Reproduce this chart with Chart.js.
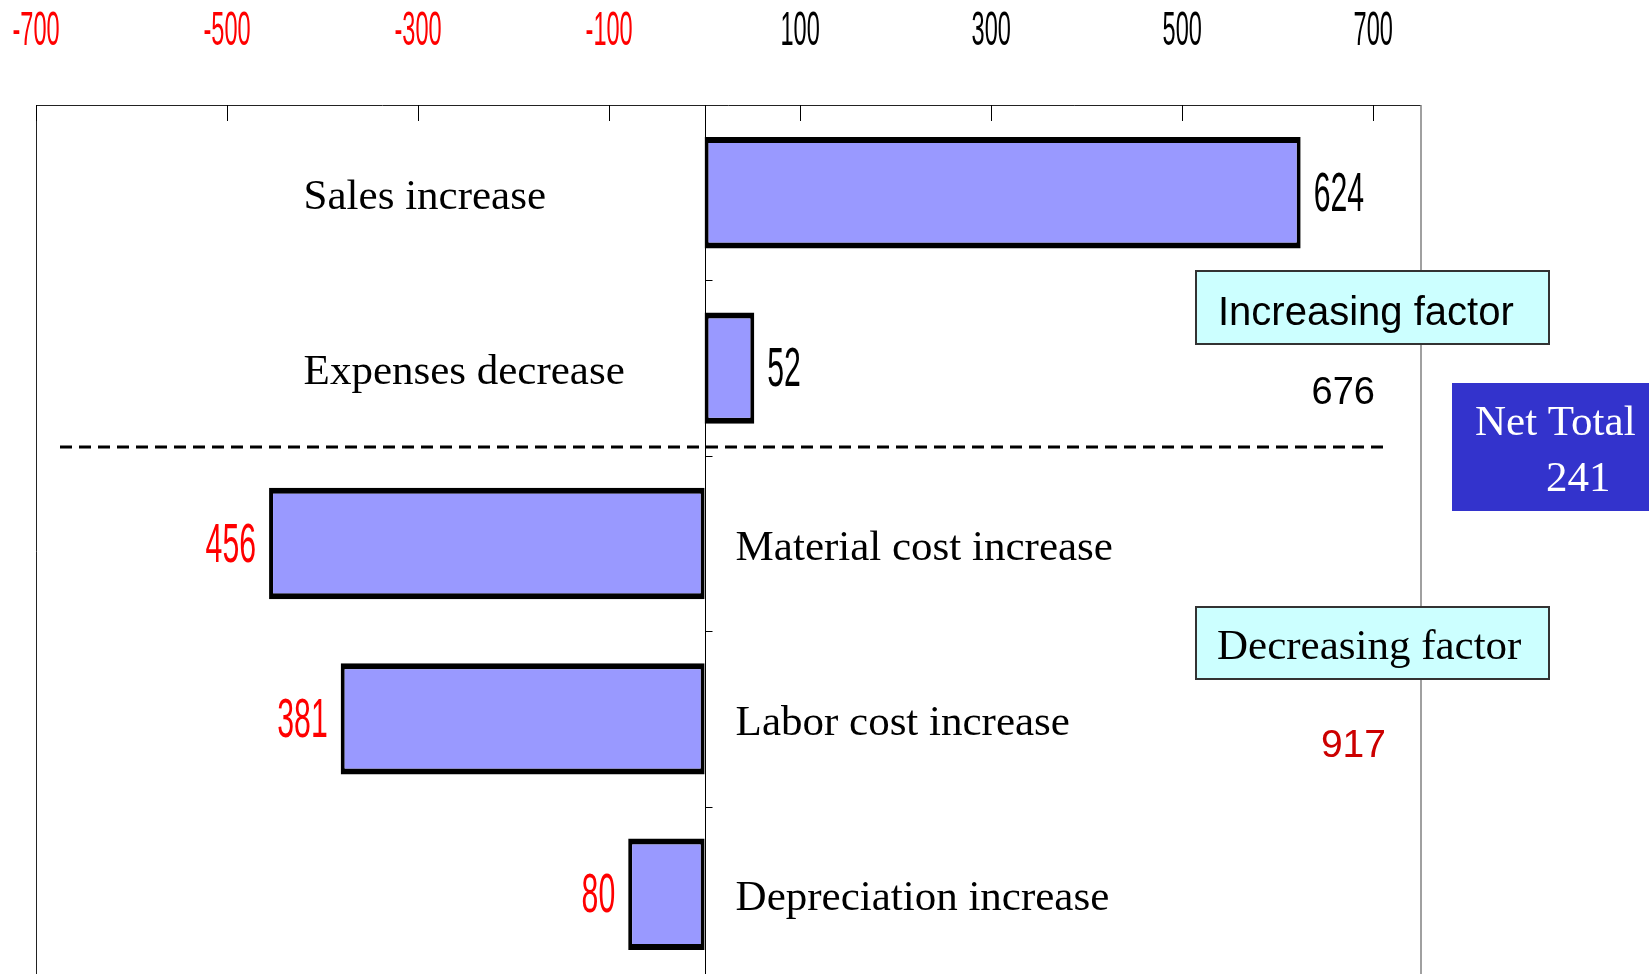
<!DOCTYPE html>
<html>
<head>
<meta charset="utf-8">
<script src="https://cdn.jsdelivr.net/npm/chart.js@4.4.0/dist/chart.umd.min.js"></script>
<style>
html,body{margin:0;padding:0;background:#fff;overflow:hidden;}
#wrap{width:1649px;height:996px;}
canvas{display:block;}
</style>
</head>
<body>
<div id="wrap"><canvas id="c" width="1649" height="996"></canvas></div>
<script>
// ---- data ----
const categories = ['Sales increase', 'Expenses decrease', 'Material cost increase', 'Labor cost increase', 'Depreciation increase'];
const values = [624, 52, -456, -381, -80];
const tickValues = [-700, -500, -300, -100, 100, 300, 500, 700];
const increasingLabel = 'Increasing factor';
const decreasingLabel = 'Decreasing factor';
const netLabel = 'Net Total';
const increasingTotal = values.filter(v => v > 0).reduce((a, b) => a + b, 0);
const decreasingTotal = -values.filter(v => v < 0).reduce((a, b) => a + b, 0);
const netTotal = Math.abs(increasingTotal - decreasingTotal);

const SANS = "'Liberation Sans', Arial, sans-serif";
const SERIF = "'Liberation Serif', 'Times New Roman', serif";

function squish(ctx, text, x, y, align, sx) {
  ctx.save();
  ctx.translate(x, y);
  ctx.scale(sx, 1);
  ctx.textAlign = align;
  ctx.textBaseline = 'alphabetic';
  ctx.fillText(text, 0, 0);
  ctx.restore();
}

const deco = {
  id: 'deco',
  beforeDatasetsDraw(chart) {
    const { ctx, chartArea: a, scales: { x, y } } = chart;
    const z = Math.round(x.getPixelForValue(0)) + 0.5;
    const bottom = chart.height + 5;
    ctx.save();
    // frame (left + top)
    ctx.strokeStyle = '#222';
    ctx.lineWidth = 1;
    ctx.beginPath();
    ctx.moveTo(Math.round(a.left) + 0.5, bottom);
    ctx.lineTo(Math.round(a.left) + 0.5, Math.round(a.top) + 0.5);
    ctx.lineTo(Math.round(a.right), Math.round(a.top) + 0.5);
    ctx.stroke();
    // right frame
    ctx.strokeStyle = '#808080';
    ctx.lineWidth = 1.5;
    ctx.beginPath();
    ctx.moveTo(a.right, a.top);
    ctx.lineTo(a.right, bottom);
    ctx.stroke();
    // top tick marks
    ctx.strokeStyle = '#000';
    ctx.lineWidth = 1;
    tickValues.forEach(v => {
      const px = Math.round(x.getPixelForValue(v)) + 0.5;
      ctx.beginPath();
      ctx.moveTo(px, a.top);
      ctx.lineTo(px, a.top + 16);
      ctx.stroke();
    });
    // tick labels
    ctx.font = '48px ' + SANS;
    tickValues.forEach(v => {
      ctx.fillStyle = v < 0 ? '#FF0000' : '#000000';
      squish(ctx, String(v), x.getPixelForValue(v), 45, 'center', 0.49);
    });
    // zero line
    ctx.beginPath();
    ctx.moveTo(z, a.top);
    ctx.lineTo(z, bottom);
    ctx.stroke();
    // category boundary ticks on the zero line
    for (let i = 0; i < categories.length - 1; i++) {
      const py = Math.round(y.getPixelForValue(i + 0.5)) + 0.5;
      ctx.beginPath();
      ctx.moveTo(z, py);
      ctx.lineTo(z + 7, py);
      ctx.stroke();
    }
    // dashed divider between increasing and decreasing factors
    const dy = Math.round(y.getPixelForValue(1.45));
    ctx.setLineDash([12, 7]);
    ctx.lineWidth = 3;
    ctx.beginPath();
    ctx.moveTo(a.left + 24, dy);
    ctx.lineTo(a.right - 36, dy);
    ctx.stroke();
    ctx.restore();
  },
  afterDatasetsDraw(chart) {
    const { ctx, scales: { x, y } } = chart;
    const z = x.getPixelForValue(0);
    const meta = chart.getDatasetMeta(0);
    ctx.save();
    // value labels
    ctx.font = '56px ' + SANS;
    meta.data.forEach((bar, i) => {
      const v = values[i];
      const cy = y.getPixelForValue(i) + 18;
      if (v >= 0) {
        ctx.fillStyle = '#000000';
        squish(ctx, String(Math.abs(v)), bar.x + 13, cy, 'left', 0.54);
      } else {
        ctx.fillStyle = '#FF0000';
        squish(ctx, String(Math.abs(v)), bar.x - 13, cy, 'right', 0.54);
      }
    });
    // category labels
    ctx.font = '43px ' + SERIF;
    ctx.fillStyle = '#000';
    ctx.textBaseline = 'alphabetic';
    ctx.textAlign = 'left';
    categories.forEach((c, i) => {
      const cy = y.getPixelForValue(i) + 16;
      const lx = values[i] >= 0 ? z - 401 : z + 31;
      ctx.fillText(c, lx, cy);
    });
    // Increasing factor box
    ctx.fillStyle = '#CCFFFF';
    ctx.fillRect(1196, 271, 353, 73);
    ctx.strokeStyle = '#333';
    ctx.lineWidth = 2;
    ctx.strokeRect(1196, 271, 353, 73);
    ctx.fillStyle = '#000';
    ctx.font = '40px ' + SANS;
    ctx.fillText(increasingLabel, 1218, 325);
    ctx.font = '38px ' + SANS;
    ctx.textAlign = 'right';
    ctx.fillText(String(increasingTotal), 1375, 404);
    // Decreasing factor box
    ctx.textAlign = 'left';
    ctx.fillStyle = '#CCFFFF';
    ctx.fillRect(1196, 607, 353, 72);
    ctx.strokeRect(1196, 607, 353, 72);
    ctx.fillStyle = '#000';
    ctx.font = '43px ' + SERIF;
    ctx.fillText(decreasingLabel, 1217, 659);
    ctx.fillStyle = '#CC0000';
    ctx.font = '39px ' + SANS;
    ctx.textAlign = 'right';
    ctx.fillText(String(decreasingTotal), 1386, 757);
    // Net total box
    ctx.fillStyle = '#3333CC';
    ctx.fillRect(1452, 383, 197, 128);
    ctx.fillStyle = '#FFFFFF';
    ctx.font = '43px ' + SERIF;
    ctx.textAlign = 'left';
    ctx.fillText(netLabel, 1475, 435);
    ctx.fillText(String(netTotal), 1546, 491);
    ctx.restore();
  }
};

new Chart(document.getElementById('c'), {
  type: 'bar',
  data: {
    labels: categories,
    datasets: [{
      data: values,
      backgroundColor: '#9999FF',
      borderColor: '#000000',
      borderWidth: { top: 6, bottom: 6, left: 4, right: 4 },
      borderSkipped: false,
      barPercentage: 0.635,
      categoryPercentage: 1
    }]
  },
  options: {
    indexAxis: 'y',
    responsive: false,
    animation: false,
    devicePixelRatio: 1,
    layout: { padding: { left: 36, right: 228, top: 105, bottom: 14 } },
    scales: {
      x: { type: 'linear', min: -700, max: 750, display: false },
      y: { type: 'category', display: false }
    },
    plugins: { legend: { display: false }, tooltip: { enabled: false } }
  },
  plugins: [deco]
});
</script>
</body>
</html>
